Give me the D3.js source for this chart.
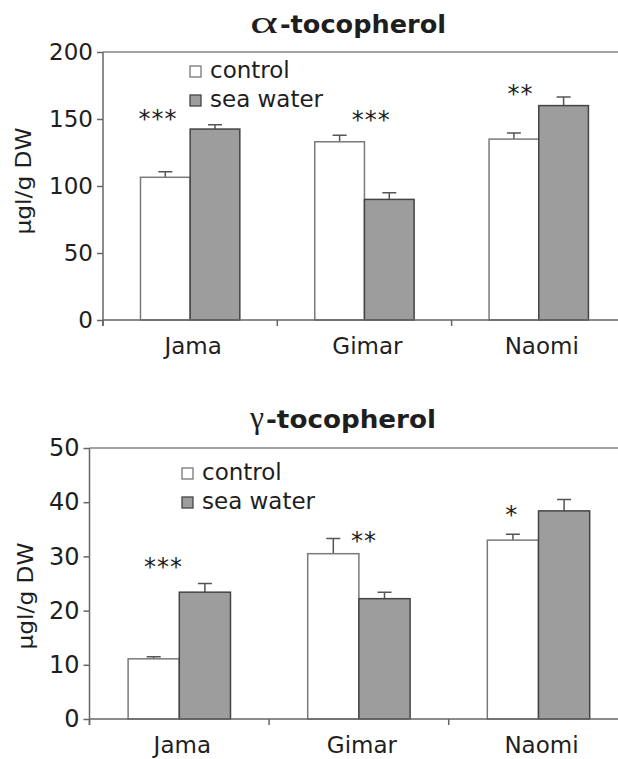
<!DOCTYPE html>
<html>
<head>
<meta charset="utf-8">
<script src="https://cdn.jsdelivr.net/npm/d3@7"></script>
<style>
  html, body { margin: 0; padding: 0; background: #fff; }
  svg { display: block; }
  text { font-family: "DejaVu Sans", sans-serif; fill: #1e1e1e; }
</style>
</head>
<body>
<svg id="chart" width="618" height="759"></svg>
<script>
// Tocopherol content of three cultivars grown with control or sea water irrigation
const categories = ["Jama", "Gimar", "Naomi"];
const series = ["control", "sea water"];

// α-tocopherol (µg/g DW)
const alphaControl = [106.5, 133, 135];
const alphaControlErr = [4.2, 4.8, 4.5];
const alphaSea = [142.5, 90, 160];
const alphaSeaErr = [3.2, 5, 6.4];
const alphaTicks = [0, 50, 100, 150, 200];
const alphaStars = ["***", "***", "**"];

// γ-tocopherol (µg/g DW)
const gammaControl = [11.1, 30.5, 33.0];
const gammaControlErr = [0.4, 2.8, 1.1];
const gammaSea = [23.4, 22.2, 38.4];
const gammaSeaErr = [1.6, 1.2, 2.1];
const gammaTicks = [0, 10, 20, 30, 40, 50];
const gammaStars = ["***", "**", "*"];

const svg = d3.select("#chart");
const W = 618;

function panel(cfg) {
  const g = svg.append("g");
  const x = d3.scaleBand().domain(categories)
    .range([cfg.x0, cfg.x0 + 3 * cfg.step]).padding(0);
  const step = x.bandwidth();
  const groupW = step * 0.57;
  const xs = d3.scaleBand().domain(series)
    .range([(step - groupW) / 2, (step + groupW) / 2]).padding(0);
  const y = d3.scaleLinear().domain([0, cfg.max]).range([cfg.y0, cfg.yTop]);

  // frame line along the top of the value range
  g.append("line")
    .attr("x1", cfg.x0).attr("x2", W)
    .attr("y1", y(cfg.max)).attr("y2", y(cfg.max))
    .attr("stroke", "#a3a3a3").attr("stroke-width", 2);

  // y axis
  const ya = g.append("g").attr("transform", `translate(${cfg.x0},0)`)
    .call(d3.axisLeft(y).tickValues(cfg.ticks).tickSize(6).tickPadding(4).tickFormat(d3.format("d")));
  ya.select(".domain").remove();
  ya.selectAll(".tick line").attr("stroke", "#666").attr("stroke-width", 1.5);
  ya.selectAll(".tick text")
    .style("font-family", "DejaVu Sans, sans-serif")
    .style("font-size", cfg.tickFont + "px").attr("fill", "#1e1e1e");
  g.append("line")
    .attr("x1", cfg.x0).attr("x2", cfg.x0)
    .attr("y1", y(cfg.max)).attr("y2", cfg.y0 + 6)
    .attr("stroke", "#666").attr("stroke-width", 1.5);

  // bars
  const rows = categories.map((c, i) => ({
    cat: c,
    vals: [
      { s: "control", v: cfg.control[i], e: cfg.controlErr[i] },
      { s: "sea water", v: cfg.sea[i], e: cfg.seaErr[i] }
    ]
  }));
  const groups = g.selectAll(".grp").data(rows).join("g")
    .attr("transform", d => `translate(${x(d.cat)},0)`);

  // error bars (upper half only)
  groups.selectAll(".err").data(d => d.vals).join("path")
    .attr("d", d => {
      const cx = xs(d.s) + xs.bandwidth() / 2;
      const t = y(d.v + d.e);
      return `M${cx},${y(d.v)}V${t}M${cx - 7},${t}H${cx + 7}`;
    })
    .attr("fill", "none").attr("stroke", "#555").attr("stroke-width", 1.5);

  groups.selectAll(".bar").data(d => d.vals).join("rect")
    .attr("x", d => xs(d.s))
    .attr("width", xs.bandwidth())
    .attr("y", d => y(d.v))
    .attr("height", d => cfg.y0 - y(d.v))
    .attr("fill", d => d.s === "control" ? "#ffffff" : "#9d9d9d")
    .attr("stroke", d => d.s === "control" ? "#7a7a7a" : "#444")
    .attr("stroke-width", 1.5);

  // x axis with ticks on the category boundaries
  g.append("line")
    .attr("x1", cfg.x0).attr("x2", W)
    .attr("y1", cfg.y0).attr("y2", cfg.y0)
    .attr("stroke", "#666").attr("stroke-width", 1.5);
  g.selectAll(".xt").data(categories).join("line")
    .attr("x1", d => x(d)).attr("x2", d => x(d))
    .attr("y1", cfg.y0).attr("y2", cfg.y0 + 6)
    .attr("stroke", "#666").attr("stroke-width", 1.5);
  g.selectAll(".xl").data(categories).join("text")
    .attr("x", d => x(d) + step / 2 + 3)
    .attr("y", cfg.labelY)
    .attr("text-anchor", "middle")
    .style("font-size", cfg.labelFont + "px")
    .text(d => d);

  // significance marks
  g.selectAll(".sig").data(cfg.stars).join("text")
    .attr("x", (d, i) => x(categories[i]) + cfg.starDx[i])
    .attr("y", (d, i) => y(cfg.starAt[i]) + 16)
    .attr("text-anchor", "middle")
    .style("font-size", "24px")
    .style("letter-spacing", "1px")
    .attr("fill", "#333")
    .text(d => d);

  // legend
  const lg = g.append("g").attr("transform", `translate(${cfg.legX},${cfg.legY})`);
  series.forEach((s, i) => {
    lg.append("rect")
      .attr("x", 0).attr("y", i * cfg.legGap - 11)
      .attr("width", 11).attr("height", 11)
      .attr("fill", s === "control" ? "#fff" : "#9d9d9d")
      .attr("stroke", s === "control" ? "#777" : "#444")
      .attr("stroke-width", 1.3);
    lg.append("text")
      .attr("x", 20).attr("y", i * cfg.legGap + 1)
      .style("font-size", cfg.legFont + "px")
      .text(s);
  });

  // y axis title
  g.append("text")
    .attr("transform", `translate(${cfg.yLabelX},${cfg.yLabelY}) rotate(-90)`)
    .attr("text-anchor", "middle")
    .style("font-size", "21px")
    .attr("textLength", 107).attr("lengthAdjust", "spacingAndGlyphs")
    .text("µgl/g DW");

  // panel title: Greek letter followed by the name
  g.append("text")
    .attr("x", cfg.titleX).attr("y", cfg.titleY)
    .style("font-family", "Liberation Serif, serif")
    .style("font-size", cfg.greekSize + "px")
    .attr("textLength", cfg.greekW).attr("lengthAdjust", "spacingAndGlyphs")
    .text(cfg.greek);
  g.append("text")
    .attr("x", cfg.titleX + cfg.greekW + 2).attr("y", cfg.titleY)
    .style("font-size", "24px").style("font-weight", "bold")
    .attr("textLength", cfg.nameW).attr("lengthAdjust", "spacingAndGlyphs")
    .text("-tocopherol");
}

panel({
  x0: 103, step: 174.3, y0: 320, yTop: 52, max: 200,
  ticks: alphaTicks, tickFont: 23, labelFont: 23, labelY: 354,
  control: alphaControl, controlErr: alphaControlErr,
  sea: alphaSea, seaErr: alphaSeaErr,
  stars: alphaStars, starDx: [55, 94, 69], starAt: [156, 155, 175],
  legX: 190, legY: 77, legGap: 29, legFont: 23,
  yLabelX: 31, yLabelY: 181,
  titleX: 250, titleY: 33, greek: "α", greekSize: 32, greekW: 28, nameW: 166
});

panel({
  x0: 89.5, step: 179.6, y0: 719, yTop: 448, max: 50,
  ticks: gammaTicks, tickFont: 24, labelFont: 23, labelY: 753,
  control: gammaControl, controlErr: gammaControlErr,
  sea: gammaSea, seaErr: gammaSeaErr,
  stars: gammaStars, starDx: [74, 95, 63], starAt: [29.5, 34.4, 39.2],
  legX: 182, legY: 479, legGap: 29, legFont: 23,
  yLabelX: 33, yLabelY: 596,
  titleX: 250, titleY: 428, greek: "γ", greekSize: 32, greekW: 14, nameW: 170
});
</script>
</body>
</html>
